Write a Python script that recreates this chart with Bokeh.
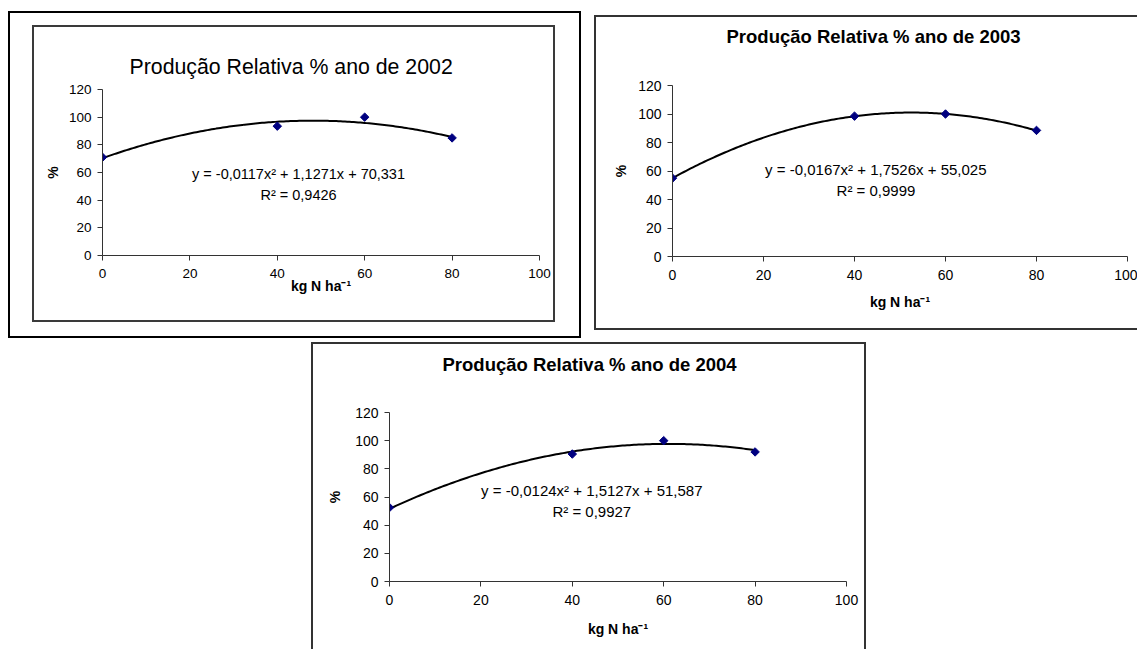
import numpy as np
from bokeh.plotting import figure
from bokeh.models import Label, Range1d, FixedTicker, Title
from bokeh.layouts import row, column
from bokeh.embed import file_html
from bokeh.resources import INLINE

# ---------------- data ----------------
n_rates = [0, 40, 60, 80]
prod_2002 = [71.0, 93.5, 100.0, 85.0]
prod_2003 = [55.0, 98.5, 100.0, 88.5]
prod_2004 = [52.5, 90.5, 100.0, 92.0]
coef_2002 = [-0.0117, 1.1271, 70.331]
coef_2003 = [-0.0167, 1.7526, 55.025]
coef_2004 = [-0.0124, 1.5127, 51.587]
r2_2002 = 0.9426
r2_2003 = 0.9999
r2_2004 = 0.9927
x_ticks = [0, 20, 40, 60, 80, 100]
y_ticks = [0, 20, 40, 60, 80, 100, 120]
titles = ["Produção Relativa % ano de 2002",
          "Produção Relativa % ano de 2003",
          "Produção Relativa % ano de 2004"]
x_label = "kg N ha\u207b\u00b9"
y_label = "%"

FONT = "Liberation Sans"
X_MIN, X_MAX = 0, 100
Y_MIN, Y_MAX = 0, 120


def eq_text(c):
    a, b, k = c
    return (f"y = {a:.4f}x\u00b2 + {b:.4f}x + {k:.3f}").replace(".", ",")


def r2_text(r):
    return (f"R\u00b2 = {r:.4f}").replace(".", ",")


def add_label(p, g, px, py, text, size):
    # px, py are page pixel positions; convert to canvas pixels
    p.add_layout(Label(x=px - g["ox"], y=py - g["oy"],
                       x_units="canvas", y_units="canvas", text=text,
                       text_font=FONT, text_font_size=f"{size}px",
                       text_color="black", text_align="center",
                       text_baseline="middle"))


def make_chart(g, xs, ys, coef, r2, title, t):
    bw = g["bl"] + g["br"]
    bh = g["bt"] + g["bb"]
    p = figure(width=g["cw"] + bw, height=g["ch"] + bh,
               x_range=Range1d(X_MIN, X_MAX), y_range=Range1d(Y_MIN, Y_MAX),
               output_backend="svg", toolbar_location=None, title=title,
               min_border_left=g["left"], min_border_top=g["top"],
               min_border_right=g["cw"] - g["left"] - g["fw"],
               min_border_bottom=g["ch"] - g["top"] - g["fh"],
               background_fill_color="white", border_fill_color="white")
    p.outline_line_color = None
    p.xgrid.visible = False
    p.ygrid.visible = False
    for ax, ticks in ((p.xaxis, x_ticks), (p.yaxis, y_ticks)):
        ax.ticker = FixedTicker(ticks=ticks)
        ax.axis_line_color = "#333333"
        ax.major_tick_line_color = "#333333"
        ax.major_tick_out = 5
        ax.major_tick_in = 0
        ax.minor_tick_line_color = None
        ax.major_label_text_font = FONT
        ax.major_label_text_font_size = f"{t['tick']}px"
        ax.major_label_text_color = "black"
        ax.axis_label_text_font = FONT
        ax.axis_label_text_font_size = "14px"
        ax.axis_label_text_font_style = "bold"
        ax.axis_label_text_color = "black"
    p.xaxis.major_label_standoff = 8
    p.yaxis.major_label_standoff = 6
    p.xaxis.axis_label = x_label
    p.yaxis.axis_label = y_label
    p.xaxis.axis_label_standoff = t["xlab_standoff"]
    p.yaxis.axis_label_standoff = t["ylab_standoff"]

    # optional empty band between the plot area and the title
    if t["title_gap"] > 0:
        p.add_layout(Title(text=" ", text_font_size="1px",
                           standoff=t["title_gap"]), "above")
    p.title.align = "left"
    p.title.offset = t["title_offset"]
    p.title.standoff = t["title_standoff"]
    p.title.vertical_align = "bottom"
    p.title.text_font = FONT
    p.title.text_font_size = f"{t['title']}px"
    p.title.text_font_style = "bold" if t["title_bold"] else "normal"
    p.title.text_color = "black"

    # trendline (polynomial shown on the chart)
    cx = np.linspace(min(xs), max(xs), 161)
    cy = coef[0] * cx ** 2 + coef[1] * cx + coef[2]
    p.line(cx, cy, line_color="black", line_width=2)
    p.scatter(xs, ys, marker="square", angle=np.pi / 4, size=6,
              fill_color="#000080", line_color="#000080")

    add_label(p, g, *t["eq_pos"], eq_text(coef), t["eq"])
    add_label(p, g, *t["r2_pos"], r2_text(r2), t["eq"])
    return p


# geometry: ox/oy = canvas origin on the page; frame inside the canvas
g1 = dict(ox=34, oy=27, cw=519, ch=293, left=68, top=62, fw=433, fh=162,
          bl=2, br=2, bt=2, bb=2)
g2 = dict(ox=596, oy=17, cw=541, ch=311, left=76, top=68, fw=453, fh=167,
          bl=2, br=0, bt=2, bb=2)
g3 = dict(ox=313, oy=344, cw=551, ch=305, left=76, top=68, fw=453, fh=167,
          bl=2, br=2, bt=2, bb=0)

t1 = dict(tick=13.5, title=21.3, title_bold=False, eq=14.5,
          title_offset=27, title_standoff=22, title_gap=0,
          xlab_standoff=-3, ylab_standoff=5,
          eq_pos=(296, 171.7), r2_pos=(296, 192.7))
t2 = dict(tick=14, title=18.5, title_bold=True, eq=15,
          title_offset=54, title_standoff=0, title_gap=36,
          xlab_standoff=11, ylab_standoff=6,
          eq_pos=(873.3, 166.7), r2_pos=(873.5, 187.7))
t3 = dict(tick=14, title=18.5, title_bold=True, eq=15,
          title_offset=53, title_standoff=0, title_gap=35,
          xlab_standoff=13, ylab_standoff=9,
          eq_pos=(589.3, 488.3), r2_pos=(589.3, 509))

p1 = make_chart(g1, n_rates, prod_2002, coef_2002, r2_2002, titles[0], t1)
p2 = make_chart(g2, n_rates, prod_2003, coef_2003, r2_2003, titles[1], t2)
p3 = make_chart(g3, n_rates, prod_2004, coef_2004, r2_2004, titles[2], t3)

p1.styles = {"border": "2px solid #3a3a3a"}
p1.margin = (12, 24, 14, 22)
wrap1 = column(p1, styles={"border": "2px solid #000000"}, margin=(11, 0, 0, 8))

p2.styles = {"border-left": "2px solid #333333", "border-top": "2px solid #333333",
             "border-bottom": "2px solid #333333"}
p2.margin = (15, 0, 0, 13)

p3.styles = {"border-left": "2px solid #333333", "border-top": "2px solid #333333",
             "border-right": "2px solid #333333"}
p3.margin = (4, 0, 0, 311)

layout = column(row(wrap1, p2), p3)

open("out.html", "w").write(file_html(layout, INLINE))
